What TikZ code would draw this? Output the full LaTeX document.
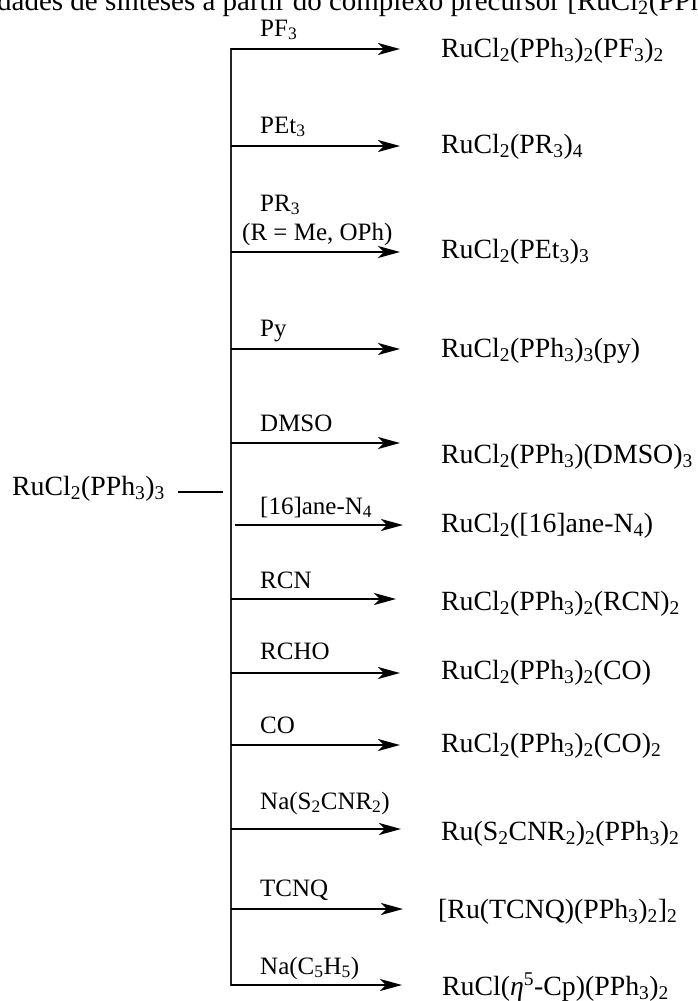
\documentclass[tikz,border=0pt]{standalone}
\usepackage{fontspec}
\setmainfont{Liberation Serif}
\usetikzlibrary{arrows.meta}
\newcommand\sbs[1]{\textsubscript{#1}}
\newcommand\sps[1]{\textsuperscript{#1}}
\begin{document}
\begin{tikzpicture}[x=1pt,y=-1pt,
  prod/.style={anchor=base west,inner sep=0pt,font=\fontsize{27.8}{30}\selectfont},
  reag/.style={anchor=base west,inner sep=0pt,font=\fontsize{25}{28}\selectfont},
  rxn/.style={line width=2pt,-{Stealth[length=22pt,width=12pt,inset=6pt]}},
  spine/.style={line width=2pt,line cap=rect,draw=black!85}]
\useasboundingbox (0,0) rectangle (697,1001);
\clip (0,0) rectangle (697,1001);
\node[anchor=base west,inner sep=0pt,font=\fontsize{29}{32}\selectfont] (title) at (-3,10)
  {dades de sínteses a partir do complexo precursor [RuCl\sbs{2}(PPh\sbs{3})\sbs{3}]};
% starting complex
\node[prod] (start) at (12,495) {RuCl\sbs{2}(PPh\sbs{3})\sbs{3}};
\coordinate (d1) at (178,492);
\coordinate (d2) at (223,492);
\draw[line width=1.8pt] (d1) -- (d2);
% spine
\coordinate (s1) at (231,49);
\coordinate (s12) at (231,985);
\draw[spine] (s1) -- (s12);
% row 1
\coordinate (a1) at (231,49); \coordinate (t1) at (400,49);
\draw[rxn] (a1) -- (t1);
\node[reag] (r1) at (260,36) {PF\sbs{3}};
\node[prod] (p1) at (441,57) {RuCl\sbs{2}(PPh\sbs{3})\sbs{2}(PF\sbs{3})\sbs{2}};
% row 2
\coordinate (a2) at (231,146); \coordinate (t2) at (400,146);
\draw[rxn] (a2) -- (t2);
\node[reag] (r2) at (260,133) {PEt\sbs{3}};
\node[prod] (p2) at (441,153) {RuCl\sbs{2}(PR\sbs{3})\sbs{4}};
% row 3
\coordinate (a3) at (231,252); \coordinate (t3) at (400,252);
\draw[rxn] (a3) -- (t3);
\node[reag] (r3) at (260,211) {PR\sbs{3}};
\node[reag] (r3b) at (242,240) {(R = Me, OPh)};
\node[prod] (p3) at (441,258) {RuCl\sbs{2}(PEt\sbs{3})\sbs{3}};
% row 4
\coordinate (a4) at (231,349); \coordinate (t4) at (400,349);
\draw[rxn] (a4) -- (t4);
\node[reag] (r4) at (260,336) {Py};
\node[prod] (p4) at (441,357) {RuCl\sbs{2}(PPh\sbs{3})\sbs{3}(py)};
% row 5
\coordinate (a5) at (231,443); \coordinate (t5) at (400,443);
\draw[rxn] (a5) -- (t5);
\node[reag] (r5) at (260,431) {DMSO};
\node[prod] (p5) at (441,463) {RuCl\sbs{2}(PPh\sbs{3})(DMSO)\sbs{3}};
% row 6
\coordinate (a6) at (235,525); \coordinate (t6) at (403,525);
\draw[rxn] (a6) -- (t6);
\node[reag] (r6) at (260,514) {[16]ane-N\sbs{4}};
\node[prod] (p6) at (441,532) {RuCl\sbs{2}([16]ane-N\sbs{4})};
% row 7
\coordinate (a7) at (231,599); \coordinate (t7) at (396,599);
\draw[rxn] (a7) -- (t7);
\node[reag] (r7) at (260,588) {RCN};
\node[prod] (p7) at (441,610) {RuCl\sbs{2}(PPh\sbs{3})\sbs{2}(RCN)\sbs{2}};
% row 8
\coordinate (a8) at (231,673); \coordinate (t8) at (400,673);
\draw[rxn] (a8) -- (t8);
\node[reag] (r8) at (260,659) {RCHO};
\node[prod] (p8) at (441,679) {RuCl\sbs{2}(PPh\sbs{3})\sbs{2}(CO)};
% row 9
\coordinate (a9) at (231,745); \coordinate (t9) at (400,745);
\draw[rxn] (a9) -- (t9);
\node[reag] (r9) at (260,733) {CO};
\node[prod] (p9) at (441,752) {RuCl\sbs{2}(PPh\sbs{3})\sbs{2}(CO)\sbs{2}};
% row 10
\coordinate (a10) at (231,829); \coordinate (t10) at (401,829);
\draw[rxn] (a10) -- (t10);
\node[reag] (r10) at (260,809) {Na(S\sbs{2}CNR\sbs{2})};
\node[prod] (p10) at (441,840) {Ru(S\sbs{2}CNR\sbs{2})\sbs{2}(PPh\sbs{3})\sbs{2}};
% row 11
\coordinate (a11) at (231,909); \coordinate (t11) at (403,909);
\draw[rxn] (a11) -- (t11);
\node[reag] (r11) at (260,896) {TCNQ};
\node[prod] (p11) at (438,918) {[Ru(TCNQ)(PPh\sbs{3})\sbs{2}]\sbs{2}};
% row 12
\coordinate (a12) at (231,985); \coordinate (t12) at (402,985);
\draw[rxn] (a12) -- (t12);
\node[reag] (r12) at (260,974) {Na(C\sbs{5}H\sbs{5})};
\node[prod] (p12) at (442,995) {RuCl(\textit{η}\sps{5}-Cp)(PPh\sbs{3})\sbs{2}};
\end{tikzpicture}
\end{document}
